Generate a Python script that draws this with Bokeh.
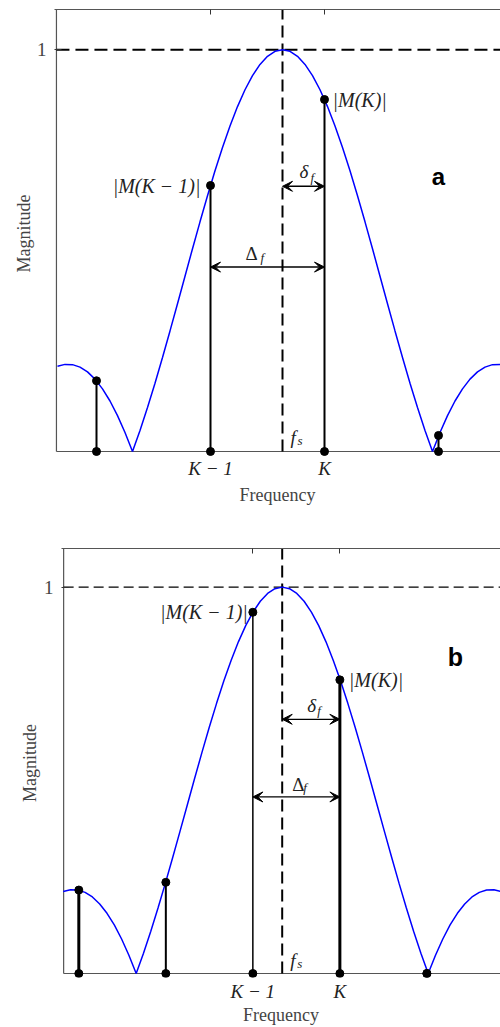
from bokeh.plotting import figure
from bokeh.models import Range1d, LinearAxis, FixedTicker, Arrow, VeeHead, Label
from bokeh.embed import file_html
from bokeh.resources import INLINE

# |sinc| magnitude response, positive half (offset from the tone in main-lobe widths)
half_u = [0.0, 0.05, 0.10, 0.15, 0.20, 0.25, 0.30, 0.35, 0.40, 0.45, 0.50,
          0.55, 0.60, 0.65, 0.70, 0.75, 0.80, 0.85, 0.90, 0.95, 1.00,
          1.05, 1.10, 1.15, 1.20, 1.25, 1.30, 1.35, 1.40, 1.45, 1.50]
half_mag = [1.0, 0.9959, 0.9836, 0.9634, 0.9355, 0.9003, 0.8584, 0.8103, 0.7568, 0.6986, 0.6366,
            0.5716, 0.5046, 0.4363, 0.3679, 0.3001, 0.2339, 0.1700, 0.1093, 0.0524, 0.0,
            0.0474, 0.0894, 0.1257, 0.1559, 0.1801, 0.1981, 0.2101, 0.2162, 0.2168, 0.2122]
lobe_u = [-u for u in half_u[:0:-1]] + half_u
lobe_mag = half_mag[:0:-1] + half_mag

# tone frequency
fs = 0.0

# panel a: DFT bins K-2 .. K+1
bins_a = [-1.24, -0.48, 0.28, 1.04]
mag_a = [0.176, 0.662, 0.876, 0.040]
stem_w_a = [2, 2, 2, 2]

# panel b: DFT bins K-3 .. K+1
bins_b = [-1.393, -0.797, -0.201, 0.395, 0.991]
mag_b = [0.216, 0.236, 0.935, 0.760, 0.0]
stem_w_b = [3, 2, 1.5, 3, 2]

tick_labels = ["K \u2212 1", "K"]

SERIF = "Liberation Serif"
INK = "#222222"
AXIS_GREY = "#555555"
TEXT_GREY = "#444444"


def label(p, x, y, text, dx=0, dy=0, size=19, style="italic", align="left",
          baseline="alphabetic", font=SERIF, color=INK):
    p.add_layout(Label(x=x, y=y, text=text, x_offset=dx, y_offset=dy,
                       text_font=font, text_font_size=f"{size}px",
                       text_font_style=style, text_align=align,
                       text_baseline=baseline, text_color=color))


def arrow(p, x0, x1, y, width):
    p.add_layout(Arrow(x_start=x0, y_start=y, x_end=x1, y_end=y,
                       line_width=width, line_color="black",
                       start=VeeHead(size=10, fill_color="black", line_color="black"),
                       end=VeeHead(size=10, fill_color="black", line_color="black")))


def make_panel(height, top, bottom, left, x_range, y_range, border_x,
               bins, mags, stem_w, k_index, hdash, hwidth, vdash, vwidth,
               tick_standoff, ylabel_standoff, xlabel_standoff, ytick_standoff):
    p = figure(width=500, height=height, x_range=Range1d(*x_range),
               y_range=Range1d(*y_range), output_backend="svg",
               toolbar_location=None, x_axis_location=None, y_axis_location=None,
               min_border_left=left, min_border_right=0, min_border_top=top,
               min_border_bottom=bottom, background_fill_color="white",
               border_fill_color="white")
    p.outline_line_color = None
    p.grid.visible = False
    p.title.visible = False

    ticks = [bins[k_index - 1], bins[k_index]]
    overrides = {ticks[0]: tick_labels[0], ticks[1]: tick_labels[1]}

    # left axis: single tick at 1
    ya = LinearAxis(ticker=FixedTicker(ticks=[1]), axis_label="Magnitude",
                    axis_line_color=None, major_tick_in=7, major_tick_out=0,
                    minor_tick_in=0, minor_tick_out=0,
                    major_tick_line_color="#333333",
                    major_label_standoff=ytick_standoff,
                    major_label_text_font=SERIF, major_label_text_font_size="19px",
                    major_label_text_color=TEXT_GREY,
                    axis_label_text_font=SERIF, axis_label_text_font_size="18px",
                    axis_label_text_font_style="normal",
                    axis_label_text_color=TEXT_GREY,
                    axis_label_standoff=ylabel_standoff)
    p.add_layout(ya, "left")

    # bottom axis: bin labels
    xa = LinearAxis(ticker=FixedTicker(ticks=ticks), major_label_overrides=overrides,
                    axis_label="Frequency", axis_line_color=None,
                    major_tick_in=0, major_tick_out=0, minor_tick_in=0, minor_tick_out=0,
                    major_label_standoff=tick_standoff,
                    major_label_text_font=SERIF, major_label_text_font_size="19px",
                    major_label_text_font_style="italic",
                    major_label_text_color=INK,
                    axis_label_text_font=SERIF, axis_label_text_font_size="18px",
                    axis_label_text_font_style="normal",
                    axis_label_text_color=TEXT_GREY,
                    axis_label_standoff=xlabel_standoff)
    p.add_layout(xa, "below")

    # top border with inward ticks
    ta = LinearAxis(ticker=FixedTicker(ticks=ticks),
                    major_label_overrides={ticks[0]: "", ticks[1]: ""},
                    axis_line_color=AXIS_GREY, major_tick_in=5, major_tick_out=0,
                    minor_tick_in=0, minor_tick_out=0,
                    major_tick_line_color="#333333",
                    major_label_standoff=0, major_label_text_font_size="0px")
    p.add_layout(ta, "above")

    # left and bottom frame lines
    p.line([border_x, border_x], [0, y_range[1]], line_color=AXIS_GREY, line_width=1.2)
    p.line([border_x, x_range[1]], [0, 0], line_color=AXIS_GREY, line_width=1.2)

    # reference lines: unit magnitude and tone frequency
    p.line([border_x, x_range[1]], [1, 1], line_color="black", line_width=hwidth,
           line_dash=hdash)
    p.line([fs, fs], [0, y_range[1]], line_color="black", line_width=vwidth,
           line_dash=vdash)

    # magnitude response
    p.line(lobe_u, lobe_mag, line_color="#0000ff", line_width=1.5)

    # DFT samples
    p.segment(x0=bins, y0=[0] * len(bins), x1=bins, y1=mags,
              line_color="black", line_width=stem_w)
    p.scatter(bins, mags, size=8, color="black")
    p.scatter(bins, [0] * len(bins), size=8, color="black")
    return p


# ---------------- panel a ----------------
pa = make_panel(height=515, top=9, bottom=58, left=54,
                x_range=(-1.52, 1.4533), y_range=(-0.0149, 1.1), border_x=-1.507,
                bins=bins_a, mags=mag_a, stem_w=stem_w_a, k_index=2,
                hdash="13 6", hwidth=2, vdash="12 6", vwidth=2,
                tick_standoff=0, ylabel_standoff=0, xlabel_standoff=3, ytick_standoff=8)

delta_y_a = 0.66
Delta_y_a = 0.459
arrow(pa, fs, bins_a[2], delta_y_a, 1.5)
arrow(pa, bins_a[1], bins_a[2], Delta_y_a, 1.5)

label(pa, bins_a[1], mag_a[1], "|M(K \u2212 1)|", dx=-10, size=20, align="right", baseline="middle")
label(pa, bins_a[2], mag_a[2], "|M(K)|", dx=8, size=20, baseline="middle")
label(pa, fs, delta_y_a, "\u03b4", dx=17, dy=15)
label(pa, fs, delta_y_a, "f", dx=28, dy=9, size=13)
label(pa, fs, Delta_y_a, "\u0394", dx=-37, dy=14, style="normal")
label(pa, fs, Delta_y_a, "f", dx=-22, dy=10, size=13)
label(pa, fs, 0, "f", dx=8, dy=14)
label(pa, fs, 0, "s", dx=15, dy=11, size=13)
label(pa, 1.04, 0.684, "a", size=24, style="bold", align="center", baseline="middle",
      font="Liberation Sans", color="black")

# ---------------- panel b ----------------
pb = make_panel(height=512, top=33, bottom=49, left=61,
                x_range=(-1.5116, 1.4952), y_range=(-0.0103, 1.1), border_x=-1.497,
                bins=bins_b, mags=mag_b, stem_w=stem_w_b, k_index=3,
                hdash="10 5", hwidth=1.3, vdash="12 6", vwidth=2,
                tick_standoff=3, ylabel_standoff=1, xlabel_standoff=0, ytick_standoff=8)

delta_y_b = 0.658
Delta_y_b = 0.457
arrow(pb, fs, bins_b[3], delta_y_b, 1.2)
arrow(pb, bins_b[2], bins_b[3], Delta_y_b, 1.2)

label(pb, bins_b[2], mag_b[2], "|M(K \u2212 1)|", dx=-5, size=20, align="right", baseline="middle")
label(pb, bins_b[3], mag_b[3], "|M(K)|", dx=9, size=20, baseline="middle")
label(pb, fs, delta_y_b, "\u03b4", dx=25, dy=14)
label(pb, fs, delta_y_b, "f", dx=35, dy=9, size=13)
label(pb, fs, Delta_y_b, "\u0394", dx=10, dy=12, style="normal")
label(pb, fs, Delta_y_b, "f", dx=21, dy=9, size=13)
label(pb, fs, 0, "f", dx=8, dy=13)
label(pb, fs, 0, "s", dx=15, dy=10, size=13)
label(pb, 1.187, 0.818, "b", size=25, style="bold", align="center", baseline="middle",
      font="Liberation Sans", color="black")

# two independent roots stacked on the page
open("out.html", "w").write(file_html([pa, pb], INLINE))
